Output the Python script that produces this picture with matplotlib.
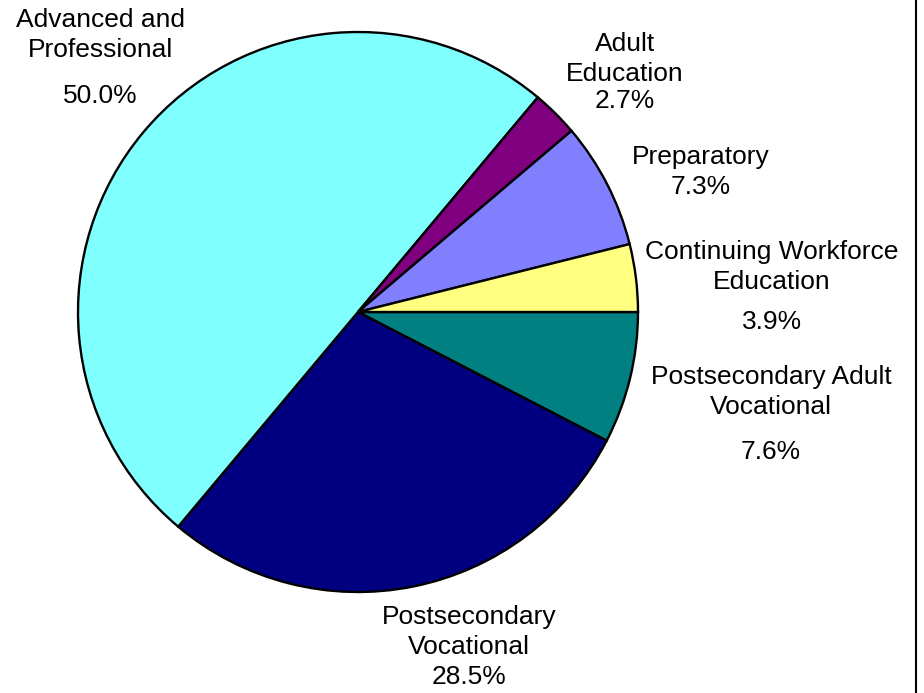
import matplotlib.pyplot as plt
from matplotlib.lines import Line2D

plt.rcParams['font.family'] = ['Liberation Sans', 'DejaVu Sans']

# Данные (по часовой стрелке от 3 часов)
categories = ['Postsecondary Adult\nVocational', 'Postsecondary\nVocational',
              'Advanced and\nProfessional', 'Adult\nEducation', 'Preparatory',
              'Continuing Workforce\nEducation']
values = [7.6, 28.5, 50.0, 2.7, 7.3, 3.9]
colors = ['#008080', '#000080', '#80FFFF', '#800080', '#8080FF', '#FFFF80']

# Положение подписей в пикселях: (x, y названия, y процента)
W, H = 924, 693
cx, cy, R = 358, 312, 280
label_pos = [(771, 392, 452), (469, 632, 677), (100, 35, 96),
             (625, 59, 101), (701, 157, 187), (772, 267, 322)]

fig = plt.figure(figsize=(W / 100, H / 100), dpi=100)
ax = fig.add_axes([0, 0, 1, 1])
ax.pie(values, colors=colors, startangle=0, counterclock=False, radius=1,
       wedgeprops=dict(edgecolor='black', linewidth=1.7))
ax.set_xlim(-cx / R, (W - cx) / R)
ax.set_ylim(-(H - cy) / R, cy / R)
ax.set_aspect('equal')
ax.axis('off')

total = sum(values)
for name, v, (px, py, pp) in zip(categories, values, label_pos):
    ax.text((px - cx) / R, (cy - py) / R, name, ha='center', va='center',
            fontsize=19, linespacing=1.35)
    ax.text((px - cx) / R, (cy - pp) / R, f'{v / total * 100:.1f}%',
            ha='center', va='center', fontsize=19)

# рамка справа
fig.add_artist(Line2D([916 / W, 916 / W], [0, 1], transform=fig.transFigure,
                      color='black', linewidth=1.5))

fig.savefig('out.png', dpi=100)
